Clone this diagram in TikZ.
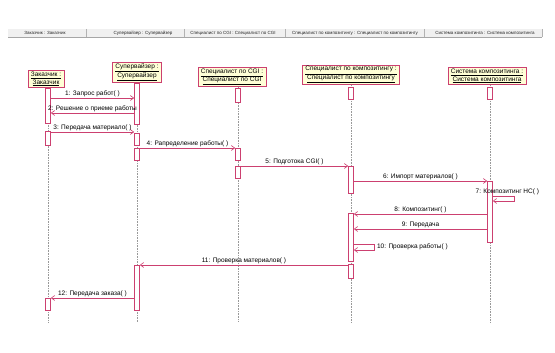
\documentclass[tikz,border=0pt]{standalone}
\usepackage{fontspec}
\setmainfont{Liberation Sans}
\usetikzlibrary{arrows.meta, positioning, calc}

\definecolor{umlred}{RGB}{204,64,112}
\definecolor{umlfill}{RGB}{255,255,214}

\tikzset{
  head/.style={draw=umlred, fill=umlfill, align=center, font=\fontsize{6.5}{7.6}\selectfont, inner xsep=3pt, inner ysep=1.5pt, anchor=south, line width=0.6pt},
  act/.style={draw=umlred, fill=white, minimum width=5pt, inner sep=0pt, anchor=north, line width=0.6pt},
  life/.style={gray!80, densely dotted, line width=0.6pt},
  msg/.style={umlred, line width=0.6pt, -{Straight Barb[length=3.5pt,width=5pt]}},
  lbl/.style={font=\fontsize{6.5}{7.6}\selectfont, text=black, inner sep=1pt, anchor=south},
  hdr/.style={font=\fontsize{4.5}{5}\selectfont, text=gray!30!black, inner sep=0pt}
}

% activation bar: name, x, top, bottom
\newcommand{\actbar}[4]{\node[act, minimum height=#4pt-#3pt] (#1) at (#2,#3) {};}

\begin{document}
\begin{tikzpicture}[x=1pt, y=-1pt]
\useasboundingbox (0,0) rectangle (555,353);
% Header strip
\fill[gray!12] (8,29) rectangle (542,37);
\draw[gray!70, line width=0.8pt] (8,37.5) -- (542,37.5);
\foreach \x in {86,184,285,424,542}
    \draw[gray!60] (\x,29) -- (\x,37);
\foreach \x/\lbl in {45/{Заказчик : Заказчик}, 143/{Супервайзер : Супервайзер}, 233/{Специалист по CGI : Специалист по CGI}, 355/{Специалист по композитингу : Специалист по композитингу}, 485/{Система композитинга : Система композитинга}}
    \node[hdr] (h\x) at (\x,33) {\lbl};
% Lifeline heads
\node[head] (zak) at (46,88) {\underline{Заказчик :}\\\underline{Заказчик}};
\node[head] (sup) at (137,83) {\underline{Супервайзер :}\\\underline{Супервайзер}};
\node[head] (cgi) at (232,87) {\underline{Специалист по CGI :}\\\underline{Специалист по CGI}};
\node[head] (komp) at (351,85) {\underline{Специалист по композитингу :}\\\underline{Специалист по композитингу}};
\node[head] (sys) at (487,85) {\underline{Система композитинга :}\\\underline{Система композитинга}};
% Lifelines
\foreach \n/\x in {zak/48, sup/137, cgi/238, komp/351, sys/490}
    \draw[life] (\n.south -| \x,0) -- (\x,322);
% Activation bars
\actbar{zak1}{48}{88}{123}
\actbar{zak2}{48}{131}{145}
\actbar{zak3}{48}{298}{310}
\actbar{sup1}{137}{83}{124}
\actbar{sup2}{137}{133}{145}
\actbar{sup3}{137}{148}{160}
\actbar{sup4}{137}{265}{310}
\actbar{cgi1}{238}{88}{102}
\actbar{cgi2}{238}{148}{160}
\actbar{cgi3}{238}{166}{178}
\actbar{komp1}{351}{87}{99}
\actbar{komp2}{351}{166}{193}
\actbar{komp3}{351}{213}{261}
\actbar{komp4}{351}{264}{278}
\actbar{sys1}{490}{87}{99}
\actbar{sys2}{490}{181}{242}
% Messages
\draw[msg] (zak1.east |- 0,98) -- node[lbl] (m1) {1: Запрос работ( )} (sup1.west |- 0,98);
\draw[msg] (sup1.west |- 0,113) -- node[lbl] (m2) {2: Решение о приеме работы} (zak1.east |- 0,113);
\draw[msg] (zak2.east |- 0,132) -- node[lbl] (m3) {3: Передача материало( )} (sup2.west |- 0,132);
\draw[msg] (sup3.east |- 0,148) -- node[lbl] (m4) {4: Рапределение работы( )} (cgi2.west |- 0,148);
\draw[msg] (cgi3.east |- 0,166) -- node[lbl] (m5) {5: Подготока CGI( )} (komp2.west |- 0,166);
\draw[msg] (komp2.east |- 0,181) -- node[lbl] (m6) {6: Импорт материалов( )} (sys2.west |- 0,181);
\draw[msg] (sys2.east |- 0,196) -- node[lbl, xshift=4pt] (m7) {7: Композитинг НС( )} ++(21,0) -- ++(0,5) -- (sys2.east |- 0,201);
\draw[msg] (sys2.west |- 0,214) -- node[lbl] (m8) {8: Композитинг( )} (komp3.east |- 0,214);
\draw[msg] (sys2.west |- 0,229) -- node[lbl] (m9) {9: Передача} (komp3.east |- 0,229);
\draw[msg] (komp3.east |- 0,244) -- ++(20,0) -- node[lbl, anchor=west, inner sep=3pt] (m10) {10: Проверка работы( )} ++(0,6) -- (komp3.east |- 0,250);
\draw[msg] (komp4.west |- 0,265) -- node[lbl] (m11) {11: Проверка материалов( )} (sup4.east |- 0,265);
\draw[msg] (sup4.west |- 0,298) -- node[lbl] (m12) {12: Передача заказа( )} (zak3.east |- 0,298);
\end{tikzpicture}
\end{document}
